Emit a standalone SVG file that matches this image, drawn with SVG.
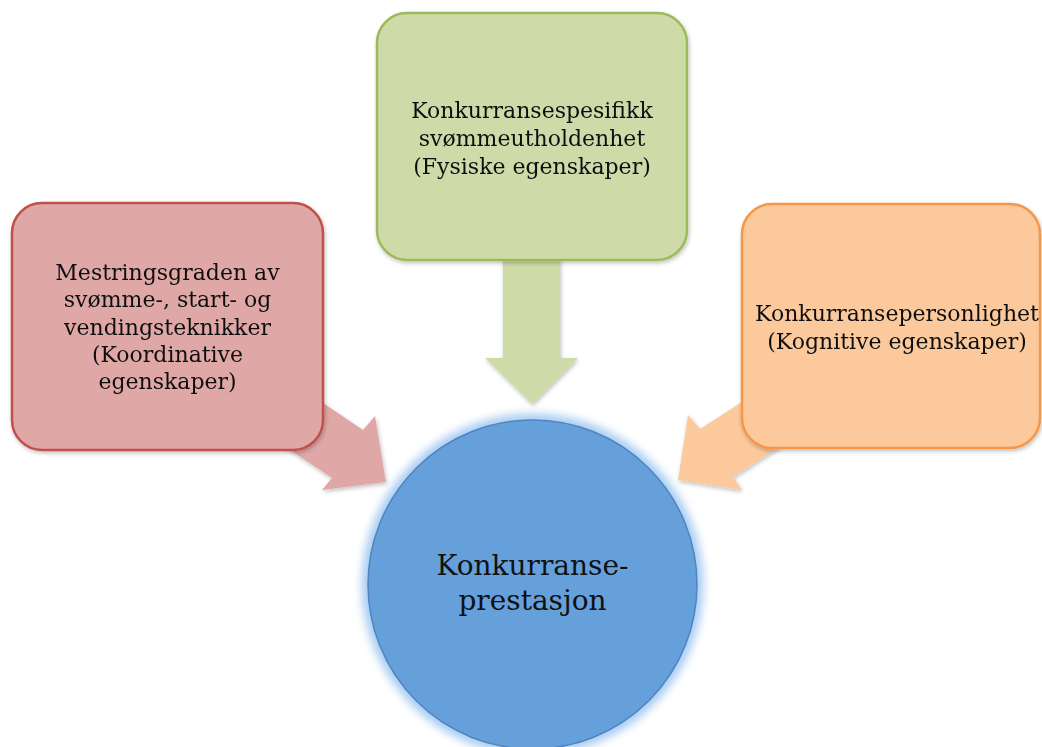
<svg xmlns="http://www.w3.org/2000/svg" width="1042" height="747" viewBox="0 0 1042 747">
<style>
text{font-family:"DejaVu Serif","Liberation Serif",serif;fill:#111;text-anchor:middle}
.t{font-size:22px}
.big{font-size:28px}
</style>
<defs>
<filter id="sh" x="-10%" y="-10%" width="130%" height="130%">
<feGaussianBlur in="SourceAlpha" stdDeviation="2"/>
<feOffset dx="1" dy="2"/>
<feComponentTransfer><feFuncA type="linear" slope="0.25"/></feComponentTransfer>
<feMerge><feMergeNode/><feMergeNode in="SourceGraphic"/></feMerge>
</filter>
<filter id="glow" x="-20%" y="-20%" width="140%" height="140%">
<feGaussianBlur stdDeviation="4"/>
</filter>
</defs>
<rect width="1042" height="747" fill="#ffffff"/>
<g id="circle">
<circle cx="532.5" cy="584.5" r="171" fill="#a9cdf3" filter="url(#glow)"/>
<circle cx="532.5" cy="584.5" r="164.5" fill="#66a0db" stroke="#4f84c0" stroke-width="1.5"/>
<text class="big" x="532.5" y="575">Konkurranse-</text>
<text class="big" x="532.5" y="610">prestasjon</text>
</g>
<g id="connectors" filter="url(#sh)">
<polygon points="503,250 560,250 560,358 578,358 532,404 485,358 503,358" fill="#cfdaa9"/>
<polygon points="283,376 363,430 375,416 386,482 322,490 332,478 260,430" fill="#dfa8a6"/>
<polygon points="782,376 700,429 688,415 678,480 742,490 733,477 805,430" fill="#fbc99c"/>
</g>
<g id="box-red" filter="url(#sh)">
<rect x="12" y="203" width="311" height="247" rx="30" fill="#dfa8a6" stroke="#c0504d" stroke-width="2.5"/>
<text class="t" x="167.5" y="280">Mestringsgraden av</text>
<text class="t" x="167.5" y="307">svømme-, start- og</text>
<text class="t" x="167.5" y="335">vendingsteknikker</text>
<text class="t" x="167.5" y="362">(Koordinative</text>
<text class="t" x="167.5" y="389">egenskaper)</text>
</g>
<g id="box-green" filter="url(#sh)">
<rect x="377" y="13" width="310" height="247" rx="30" fill="#cfdaa9" stroke="#9bbb59" stroke-width="2.5"/>
<text class="t" x="532" y="118">Konkurransespesifikk</text>
<text class="t" x="532" y="146">svømmeutholdenhet</text>
<text class="t" x="532" y="174">(Fysiske egenskaper)</text>
</g>
<g id="box-orange" filter="url(#sh)">
<rect x="742" y="204" width="298" height="244" rx="30" fill="#fbc99c" stroke="#f79646" stroke-width="2.5"/>
<text class="t" x="897" y="321">Konkurransepersonlighet</text>
<text class="t" x="897" y="349">(Kognitive egenskaper)</text>
</g>
</svg>
